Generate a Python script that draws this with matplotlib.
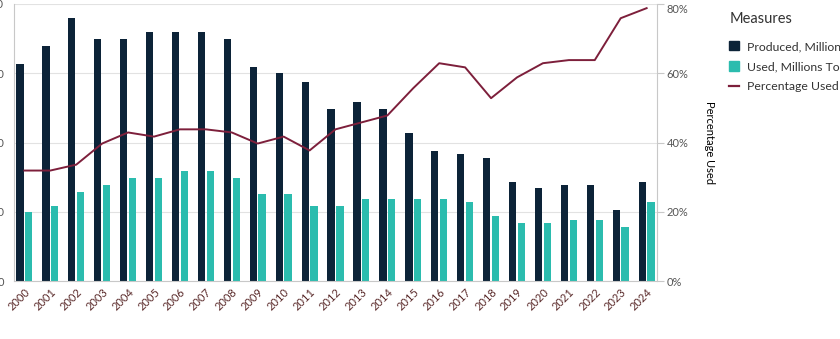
import matplotlib.pyplot as plt
import numpy as np
from matplotlib.patches import Patch
from matplotlib.lines import Line2D

plt.rcParams['font.family'] = ['Lato', 'DejaVu Sans']

years = [str(y) for y in range(2000, 2025)]
produced = [31.4, 33.9, 38.0, 34.9, 34.9, 35.9, 35.9, 35.9, 34.9, 30.9,
            30.0, 28.8, 24.9, 25.9, 24.9, 21.4, 18.8, 18.4, 17.8, 14.3,
            13.5, 13.9, 13.9, 10.3, 14.3]
used = [9.9, 10.9, 12.9, 13.9, 14.9, 14.9, 15.9, 15.9, 14.9, 12.5,
        12.5, 10.9, 10.9, 11.9, 11.9, 11.9, 11.9, 11.4, 9.4, 8.4,
        8.4, 8.8, 8.8, 7.8, 11.4]
pct_used = [31.9, 31.9, 33.6, 39.7, 42.9, 41.7, 43.8, 43.8, 42.9, 39.7,
            41.7, 37.7, 43.8, 45.8, 47.8, 55.7, 62.9, 61.7, 52.8, 58.8,
            62.9, 63.8, 63.8, 75.9, 78.8]
left_ticks = [0, 10, 20, 30, 40]
right_ticks = [0, 20, 40, 60, 80]

c_prod = '#0c2338'
c_used = '#2bbcae'
c_line = '#7d1f3b'
grid_c = '#e2e2e2'

fig = plt.figure(figsize=(8.4, 3.39), dpi=100)
W, H = 840, 339
ax = fig.add_axes([14 / W, 1 - 281 / H, (657 - 14) / W, (281 - 4) / H])
x = np.arange(len(years))
w = 0.28
ax.bar(x - 0.17, produced, w, color=c_prod, zorder=2)
ax.bar(x + 0.17, used, w, color=c_used, zorder=2)
ax.set_xlim(-0.4, 24.4)
ax.set_ylim(0, 40)
ax.set_yticks(left_ticks)
ax.yaxis.grid(True, color=grid_c, lw=0.8, zorder=0)
ax.tick_params(axis='y', length=0, pad=7, labelsize=8, labelcolor='#555555')
ax.set_xticks(x)
ax.set_xticklabels(years, rotation=45, ha='right', va='top',
                   rotation_mode='anchor', color='#5a2a2a', fontsize=8)
ax.tick_params(axis='x', length=0, pad=4)
for s in ['top', 'right']:
    ax.spines[s].set_visible(False)
for s in ['left', 'bottom']:
    ax.spines[s].set_color('#c8c8c8')

ax2 = ax.twinx()
ax2.plot(x, pct_used, color=c_line, lw=1.4, zorder=3)
ax2.set_ylim(0, 80)
ax2.set_yticks(right_ticks)
ax2.set_yticklabels([f'{t}%' for t in right_ticks])
ax2.tick_params(axis='y', length=5, width=0.8, color='#c8c8c8', pad=2,
                labelsize=8, labelcolor='#555555')
for s in ['top', 'left', 'bottom']:
    ax2.spines[s].set_visible(False)
ax2.spines['right'].set_color('#c8c8c8')
ax2.set_ylabel('Percentage Used', rotation=270, labelpad=19, fontsize=8)
ax2.get_yticklabels()[-1].set_va('top')

# legend, title placed by hand
fig.text(730 / W, 1 - 19 / H, 'Measures', fontsize=10.5, color='#333333',
         va='center', ha='left')
handles = [Patch(color=c_prod), Patch(color=c_used),
           Line2D([0], [0], color=c_line, lw=1.6)]
labels = ['Produced, Millions Tonnes', 'Used, Millions Tonnes', 'Percentage Used']
leg = fig.legend(handles, labels, loc='upper left',
                 bbox_to_anchor=(718 / W, 1 - 30 / H), frameon=False,
                 fontsize=8.8, handlelength=0.8, handleheight=0.8,
                 handletextpad=0.7, labelspacing=0.75)
for t in leg.get_texts():
    t.set_color('#333333')

fig.savefig('out.png', dpi=100, facecolor='white')
